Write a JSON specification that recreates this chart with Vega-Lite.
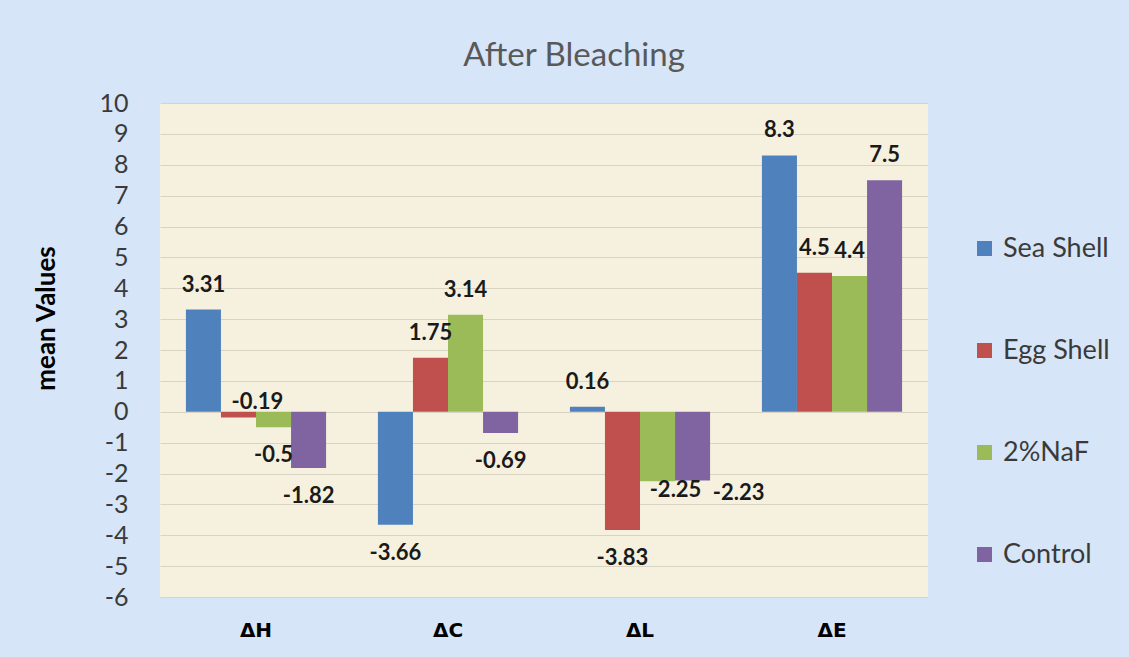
{
  "$schema": "https://vega.github.io/schema/vega-lite/v6.json",
  "width": 768,
  "height": 494,
  "autosize": {"type": "none"},
  "padding": {"left": 160, "top": 103, "right": 201, "bottom": 60},
  "background": "#d6e5f7",
  "title": {"text": "After Bleaching", "font": "Lato", "fontSize": 33, "fontWeight": "normal", "color": "#595959", "offset": 18, "dx": 30},
  "config": {"view": {"fill": "#f6f1de", "stroke": null}, "font": "Lato"},
  "data": {
    "values": [
      {"group": "ΔH", "series": "Sea Shell", "value": 3.31},
      {"group": "ΔH", "series": "Egg Shell", "value": -0.19},
      {"group": "ΔH", "series": "2%NaF", "value": -0.5},
      {"group": "ΔH", "series": "Control", "value": -1.82},
      {"group": "ΔC", "series": "Sea Shell", "value": -3.66},
      {"group": "ΔC", "series": "Egg Shell", "value": 1.75},
      {"group": "ΔC", "series": "2%NaF", "value": 3.14},
      {"group": "ΔC", "series": "Control", "value": -0.69},
      {"group": "ΔL", "series": "Sea Shell", "value": 0.16},
      {"group": "ΔL", "series": "Egg Shell", "value": -3.83},
      {"group": "ΔL", "series": "2%NaF", "value": -2.25},
      {"group": "ΔL", "series": "Control", "value": -2.23},
      {"group": "ΔE", "series": "Sea Shell", "value": 8.3},
      {"group": "ΔE", "series": "Egg Shell", "value": 4.5},
      {"group": "ΔE", "series": "2%NaF", "value": 4.4},
      {"group": "ΔE", "series": "Control", "value": 7.5}
    ]
  },
  "encoding": {
    "x": {
      "field": "group", "type": "nominal", "sort": ["ΔH", "ΔC", "ΔL", "ΔE"],
      "scale": {"paddingInner": 0.27, "paddingOuter": 0.135},
      "axis": {"title": null, "domain": false, "ticks": false, "grid": false, "labelAngle": 0, "labelFont": "DejaVu Sans", "labelFontWeight": "bold", "labelFontSize": 20, "labelColor": "#000000", "labelPadding": 23, "labelDx": -8}
    },
    "xOffset": {
      "field": "series", "type": "nominal", "sort": ["Sea Shell", "Egg Shell", "2%NaF", "Control"],
      "scale": {"paddingInner": 0, "paddingOuter": 0}
    },
    "y": {
      "field": "value", "type": "quantitative",
      "scale": {"domain": [-6, 10], "nice": false, "zero": false},
      "axis": {
        "values": [-6, -5, -4, -3, -2, -1, 0, 1, 2, 3, 4, 5, 6, 7, 8, 9, 10],
        "labelExpr": "datum.value + ''",
        "labelOverlap": false,
        "domain": false, "ticks": false, "tickSize": 0,
        "grid": true, "gridColor": "#d8d3c2", "gridWidth": 1.2,
        "labelFont": "Lato", "labelFontSize": 25, "labelColor": "#3a3a3a", "labelPadding": 32,
        "title": "mean Values", "titleFont": "Lato", "titleFontSize": 26, "titleFontWeight": "bold", "titleColor": "#000000",
        "titleAngle": 270, "titleX": -114, "titleY": 215, "titleBaseline": "middle", "titleAlign": "center"
      }
    }
  },
  "layer": [
    {
      "mark": {"type": "bar"},
      "encoding": {
        "color": {
          "field": "series", "type": "nominal",
          "scale": {"domain": ["Sea Shell", "Egg Shell", "2%NaF", "Control"], "range": ["#4f81bd", "#c0504d", "#9bbb59", "#8064a2"]},
          "legend": {
            "title": null, "orient": "none", "legendX": 811, "legendY": 132,
            "symbolType": "square", "symbolSize": 225, "symbolStrokeWidth": 0,
            "labelFont": "Lato", "labelFontSize": 27, "labelColor": "#3a3a3a", "labelOffset": 5,
            "rowPadding": 74
          }
        }
      }
    },
    {
      "transform": [{"filter": "datum.value >= 0"}],
      "mark": {"type": "text", "baseline": "middle", "dy": -25, "fontSize": 22, "fontWeight": "bold", "font": "Lato", "color": "#1a1a1a"},
      "encoding": {"text": {"field": "value", "type": "nominal"}}
    },
    {
      "transform": [{"filter": "datum.value < 0 && datum.value != -0.19 && datum.value != -2.25 && datum.value != -2.23"}],
      "mark": {"type": "text", "baseline": "middle", "dy": 28, "fontSize": 22, "fontWeight": "bold", "font": "Lato", "color": "#1a1a1a"},
      "encoding": {"text": {"field": "value", "type": "nominal"}}
    },
    {
      "transform": [{"filter": "datum.value == -0.19"}],
      "mark": {"type": "text", "baseline": "middle", "dx": 19, "dy": -16, "fontSize": 22, "fontWeight": "bold", "font": "Lato", "color": "#1a1a1a"},
      "encoding": {"text": {"field": "value", "type": "nominal"}}
    },
    {
      "transform": [{"filter": "datum.value == -2.25"}],
      "mark": {"type": "text", "baseline": "middle", "dx": 18, "dy": 9, "fontSize": 22, "fontWeight": "bold", "font": "Lato", "color": "#1a1a1a"},
      "encoding": {"text": {"field": "value", "type": "nominal"}}
    },
    {
      "transform": [{"filter": "datum.value == -2.23"}],
      "mark": {"type": "text", "baseline": "middle", "dx": 46, "dy": 12, "fontSize": 22, "fontWeight": "bold", "font": "Lato", "color": "#1a1a1a"},
      "encoding": {"text": {"field": "value", "type": "nominal"}}
    }
  ]
}
